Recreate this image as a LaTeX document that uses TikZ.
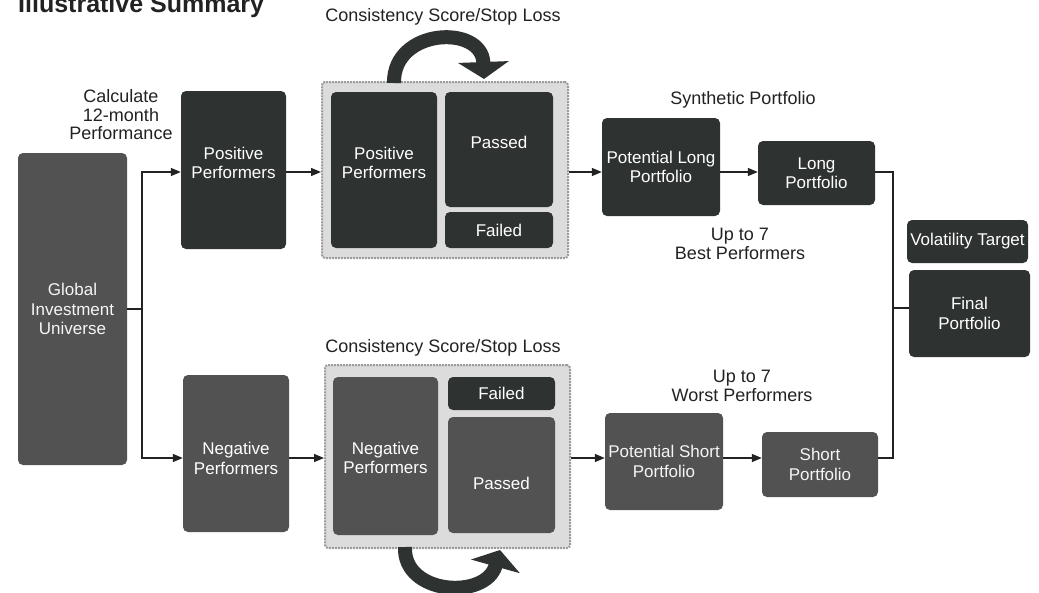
\documentclass[tikz,border=0pt]{standalone}
\usepackage{fontspec}
\setmainfont{Liberation Sans}
\usetikzlibrary{arrows.meta}
\definecolor{darkbox}{HTML}{2E3332}
\definecolor{texbox}{HTML}{525252}
\definecolor{contfill}{HTML}{DCDCDC}
\definecolor{contdraw}{HTML}{9C9C9C}
\definecolor{txt}{HTML}{222222}
\newcommand\mybox[7]{\node[#6, minimum width={(#4-#2)*1pt}, minimum height={(#5-#3)*1pt}] (#1) at ({(#2+#4)/2},{(#3+#5)/2}) {#7};}
\begin{document}
\begin{tikzpicture}[x=1pt,y=-1pt,
  dbox/.style={draw=none, fill=darkbox, rounded corners=5pt, text=white, align=center, inner sep=0pt, font=\fontsize{17}{19.5}\selectfont},
  tbox/.style={dbox, fill=texbox, text=white!92!gray},
  btext/.style={align=center, inner sep=0pt, text=white, font=\fontsize{17}{19.5}\selectfont},
  cont/.style={fill=contfill, draw=contdraw, line width=2pt, densely dotted, rounded corners=3pt, inner sep=0pt},
  lbl/.style={align=center, font=\fontsize{18}{18.5}\selectfont, text=txt},
  arr/.style={line width=1.3pt, draw=txt, -{Triangle[length=10pt,width=8pt]}},
  ln/.style={line width=1.3pt, draw=txt},
  bigarr/.style={line width=14pt, draw=darkbox, -{Triangle[length=17pt,width=50pt]}}]
\fill[white] (0,0) rectangle (1039,592);
\useasboundingbox (0,0) rectangle (1039,592);
% title (cut at top, as in the reference)
\node[anchor=base west, inner sep=0pt, font=\fontsize{25}{28}\selectfont\bfseries, text=txt] (title) at (18,12) {Illustrative Summary};
% rows
\coordinate (rowT) at (0,172);
\coordinate (rowB) at (0,458);
\coordinate (rowF) at (0,308);
% left part
\mybox{gu}{18}{153}{127}{465}{tbox}{Global\\Investment\\Universe}
\mybox{pp}{181}{91}{286}{249}{dbox}{}
\node[btext] (ppt) at ([yshift=7pt]pp.center) {Positive\\Performers};
\mybox{np}{183}{375}{289}{532}{tbox}{}
\node[btext] (npt) at ([yshift=-5pt]np.center) {Negative\\Performers};
\node[lbl] (calc) at (121,115) {Calculate\\12-month\\Performance};
% top container
\mybox{tc}{322}{82}{568}{258}{cont}{}
\mybox{tpp}{331}{92}{437}{248}{dbox}{}
\node[btext] (tppt) at ([yshift=7pt]tpp.center) {Positive\\Performers};
\mybox{tpa}{445}{92}{553}{207}{dbox}{}
\node[btext] (tpat) at ([yshift=7pt]tpa.center) {Passed};
\mybox{tfa}{445}{212}{553}{248}{dbox}{Failed}
\node[lbl] (cst) at (443,17) {Consistency Score/Stop Loss};
% bottom container
\mybox{bc}{325}{365}{570}{548}{cont}{}
\mybox{bnp}{333}{377}{438}{535}{tbox}{}
\node[btext] (bnpt) at ([yshift=-2pt]bnp.center) {Negative\\Performers};
\mybox{bfa}{448}{377}{555}{410}{dbox}{Failed}
\mybox{bpa}{448}{417}{555}{533}{tbox}{}
\node[btext] (bpat) at ([yshift=-8pt]bpa.center) {Passed};
\node[lbl] (csb) at (443,348) {Consistency Score/Stop Loss};
% portfolios
\mybox{pl}{602}{118}{720}{216}{dbox}{Potential Long\\Portfolio}
\mybox{lp}{758}{141}{875}{205}{dbox}{Long\\Portfolio}
\mybox{ps}{605}{413}{723}{510}{tbox}{Potential Short\\Portfolio}
\mybox{sp}{762}{432}{878}{497}{tbox}{Short\\Portfolio}
\mybox{vt}{907}{220}{1028}{263}{dbox}{Volatility Target}
\mybox{fp}{909}{270}{1030}{357}{dbox}{Final\\Portfolio}
\node[lbl] (syn) at (743,100) {Synthetic Portfolio};
\node[lbl] (best) at (740,244) {Up to 7\\Best Performers};
\node[lbl] (worst) at (742,386) {Up to 7\\Worst Performers};
% connectors
\coordinate (split) at (142,309);
\draw[ln] (gu.east |- split) -- (split);
\draw[arr] (split) |- (pp.west |- rowT);
\draw[arr] (split) |- (np.west |- rowB);
\draw[arr] (pp.east |- rowT) -- (tc.west |- rowT);
\draw[arr] (np.east |- rowB) -- (bc.west |- rowB);
\draw[arr] (tc.east |- rowT) -- (pl.west |- rowT);
\draw[arr] (pl.east |- rowT) -- (lp.west |- rowT);
\draw[arr] (bc.east |- rowB) -- (ps.west |- rowB);
\draw[arr] (ps.east |- rowB) -- (sp.west |- rowB);
\coordinate (jn) at (893,308);
\draw[ln] (lp.east |- rowT) -| (jn) |- (sp.east |- rowB);
\draw[ln] (jn) -- (fp.west |- rowF);
% curved arrows
\coordinate (ta) at (394,83);
\coordinate (tb) at (484,79);
\draw[bigarr] (ta) .. controls (393,28) and (482,24) .. (tb);
\coordinate (ba) at (405,547);
\coordinate (bb) at (500,550);
\draw[bigarr] (ba) .. controls (403,595) and (486,600) .. (bb);
\end{tikzpicture}
\end{document}
